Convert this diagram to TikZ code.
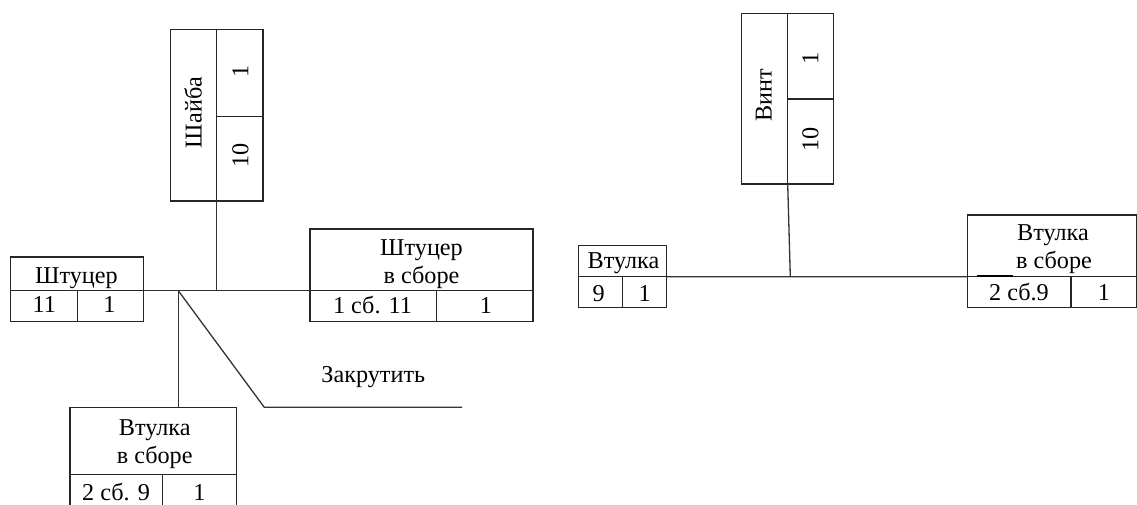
\documentclass[tikz,border=0pt]{standalone}
\usepackage{fontspec}
\setmainfont{Liberation Serif}
\usetikzlibrary{calc}
\begin{document}
\begin{tikzpicture}[x=1pt,y=-1pt,
  cell/.style={draw=black!85, line width=1.3pt, inner sep=0pt, outer sep=0pt, anchor=north west},
  txt/.style={font=\fontsize{24.2}{28}\selectfont, inner sep=0pt, anchor=base},
  vtxt/.style={txt, rotate=90},
  link/.style={draw=black!80, line width=1.3pt}]
\useasboundingbox (0,0) rectangle (1137,504);
% ---------- Шайба
\node[cell, minimum width=46pt, minimum height=171.3pt] (shL) at (170.7,29.7) {};
\node[cell, minimum width=46.3pt, minimum height=87pt] (shR1) at (216.7,29.7) {};
\node[cell, minimum width=46.3pt, minimum height=84.3pt] (shR2) at (216.7,116.7) {};
\node[vtxt] (tSh) at (201.5,112.5) {Шайба};
\node[vtxt] (tSh1) at (248.3,71.7) {1};
\node[vtxt] (tSh2) at (248.3,155.8) {10};
% ---------- Штуцер
\node[cell, minimum width=133.4pt, minimum height=33.7pt] (stH) at (10.3,257) {};
\node[cell, minimum width=67.4pt, minimum height=31pt] (stA) at (10.3,290.7) {};
\node[cell, minimum width=66pt, minimum height=31pt] (stB) at (77.7,290.7) {};
\node[txt] (tSt) at (76.5,283) {Штуцер};
\node[txt] (tStA) at (44.3,312) {11};
\node[txt] (tStB) at (109.3,312) {1};
% ---------- Штуцер в сборе
\node[cell, minimum width=223pt, minimum height=61.7pt] (ssH) at (310,229) {};
\node[cell, minimum width=126.7pt, minimum height=31pt] (ssA) at (310,290.7) {};
\node[cell, minimum width=96.3pt, minimum height=31pt] (ssB) at (436.7,290.7) {};
\node[txt] (tSs1) at (421.5,255) {Штуцер};
\node[txt] (tSs2) at (421.5,283.5) {в сборе};
\node[txt] (tSsA) at (372.5,313) {1 сб. 11};
\node[txt] (tSsB) at (486,313) {1};
% ---------- Втулка в сборе (left)
\node[cell, minimum width=166.7pt, minimum height=67.4pt] (vsH) at (70,407.3) {};
\node[cell, minimum width=92.3pt, minimum height=31pt] (vsA) at (70,474.7) {};
\node[cell, minimum width=74.4pt, minimum height=31pt] (vsB) at (162.3,474.7) {};
\node[txt] (tVs1) at (154.7,435) {Втулка};
\node[txt] (tVs2) at (154.7,463.3) {в сборе};
\node[txt] (tVsA) at (116,500) {2 сб. 9};
\node[txt] (tVsB) at (199.3,500) {1};
% ---------- Закрутить
\node[txt] (tZak) at (373.3,382.3) {Закрутить};
% ---------- left connectors
\coordinate (j1) at (178.3,290.7);
\coordinate (bend) at (264.3,407.3);
\coordinate (zEnd) at (462,407.3);
\draw[link] (stH.south east) -- (ssH.south west);
\draw[link] (shL.south east) -- (shL.south east |- stH.south east);
\draw[link] (j1) -- (j1 |- vsH.north);
\draw[link] (j1) -- (bend) -- (zEnd);
% ---------- Винт
\node[cell, minimum width=46.2pt, minimum height=170.7pt] (vnL) at (741.5,13.3) {};
\node[cell, minimum width=45.7pt, minimum height=85.7pt] (vnR1) at (787.7,13.3) {};
\node[cell, minimum width=45.7pt, minimum height=85pt] (vnR2) at (787.7,99) {};
\node[vtxt] (tVn) at (771.7,95) {Винт};
\node[vtxt] (tVn1) at (818.3,58.3) {1};
\node[vtxt] (tVn2) at (818.3,139) {10};
% ---------- Втулка (small)
\node[cell, minimum width=88.3pt, minimum height=31pt] (vtH) at (578.4,245.7) {};
\node[cell, minimum width=43.8pt, minimum height=31pt] (vtA) at (578.4,276.7) {};
\node[cell, minimum width=44.5pt, minimum height=31pt] (vtB) at (622.2,276.7) {};
\node[txt] (tVt) at (623.5,268) {Втулка};
\node[txt] (tVtA) at (598.6,301.5) {9};
\node[txt] (tVtB) at (644.6,301.5) {1};
% ---------- Втулка в сборе (right)
\node[cell, minimum width=168.5pt, minimum height=61.7pt] (vrH) at (967.7,215) {};
\node[cell, minimum width=103.3pt, minimum height=31pt] (vrA) at (967.7,276.7) {};
\node[cell, minimum width=65.5pt, minimum height=31pt] (vrB) at (1071,276.7) {};
\node[txt] (tVr1) at (1053,240) {Втулка};
\node[txt] (tVr2) at (1054,268.5) {в сборе};
\node[txt] (tVrA) at (1019,300.5) {2 сб.9};
\node[txt] (tVrB) at (1104,300.5) {1};
% ---------- right connectors
\coordinate (j3) at (790.3,276.7);
\coordinate (m1) at (976.7,275.7);
\coordinate (m2) at (1013,275.7);
\draw[link] (vtH.south east) -- (vrH.south west);
\draw[link] (vnL.south east) -- (j3);
\draw[link, line width=2pt, draw=black] (m1) -- (m2);
\end{tikzpicture}
\end{document}
